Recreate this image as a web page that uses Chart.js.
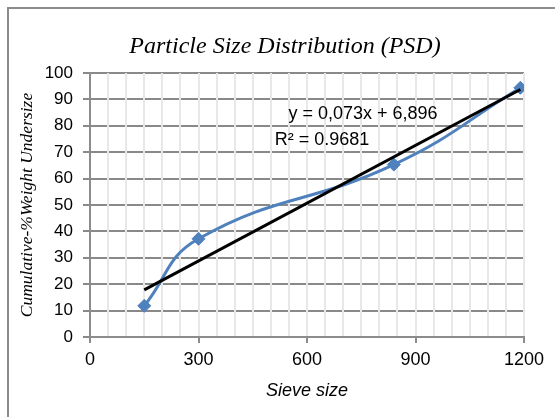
<!DOCTYPE html>
<html>
<head>
<meta charset="utf-8">
<script src="https://cdn.jsdelivr.net/npm/chart.js@4.4.1/dist/chart.umd.min.js"></script>
<style>
  html, body { margin: 0; padding: 0; background: #fff; overflow: hidden; }
  #wrap { position: relative; width: 555px; height: 417px; }
  #frame { position: absolute; left: 7px; top: 7px; width: 600px; height: 500px; border: 2px solid #8c8c8c; }
  canvas { position: absolute; left: 0; top: 0; }
</style>
</head>
<body>
<div id="wrap">
  <div id="frame"></div>
  <canvas id="psdChart" width="555" height="417"></canvas>
</div>
<script>
// Sieve sizes and cumulative % weight undersize
const sieveSizes = [150, 300, 840, 1190];
const cumUndersize = [11.8, 37.2, 65.3, 94.4];

// Linear trendline as printed on the chart
const trendSlope = 0.073;
const trendIntercept = 6.896;
const trendR2 = '0.9681';
const trendLabel = 'y = 0,073x + 6,896';
const chartTitle = 'Particle Size Distribution (PSD)';

const xTicksMajor = 300;

const seriesPoints = sieveSizes.map((x, i) => ({ x: x, y: cumUndersize[i] }));
const trendX = [sieveSizes[0], sieveSizes[sieveSizes.length - 1]];
const trendPoints = trendX.map(x => ({ x: x, y: trendSlope * x + trendIntercept }));

// title + trendline label, drawn as canvas text
const textPlugin = {
    id: 'psdText',
    afterDatasetsDraw(chart) {
        const ctx = chart.ctx;
        ctx.save();
        ctx.fillStyle = '#000';
        ctx.textAlign = 'center';
        ctx.textBaseline = 'middle';
        ctx.font = 'italic 24px "Liberation Serif", "Times New Roman", serif';
        ctx.fillText(chartTitle, 285, 47);
        ctx.font = '18px "Liberation Sans", Arial, sans-serif';
        ctx.fillText(trendLabel, 363, 114);
        ctx.fillText('R\u00B2 = ' + trendR2, 322, 140);
        ctx.restore();
    }
};

new Chart(document.getElementById('psdChart').getContext('2d'), {
    type: 'line',
    data: {
        datasets: [
            {
                label: 'Trend',
                data: trendPoints,
                borderColor: '#000000',
                borderWidth: 3,
                pointRadius: 0,
                tension: 0,
                order: 1
            },
            {
                label: 'PSD',
                data: seriesPoints,
                borderColor: '#4F81BD',
                backgroundColor: '#4F81BD',
                borderWidth: 3,
                pointStyle: 'rectRot',
                pointRadius: 6.5,
                pointBorderWidth: 1,
                tension: 0.45,
                order: 2
            }
        ]
    },
    options: {
        responsive: false,
        animation: false,
        events: [],
        layout: { padding: { left: 0, right: 31, top: 73, bottom: 0 } },
        plugins: {
            legend: { display: false },
            tooltip: { enabled: false },
            title: { display: false }
        },
        scales: {
            x: {
                type: 'linear',
                min: 0,
                max: 1200,
                afterFit: (scale) => { scale.height = 80; },
                ticks: {
                    stepSize: 50,
                    autoSkip: false,
                    maxRotation: 0,
                    padding: 6,
                    color: '#000',
                    font: { family: '"Liberation Sans", Arial, sans-serif', size: 18 },
                    callback: (v) => (v % xTicksMajor === 0 ? v : '')
                },
                grid: {
                    z: -1,
                    color: '#e8e8e8',
                    lineWidth: 2,
                    tickLength: 6,
                    tickWidth: 2,
                    tickColor: (ctx) => (ctx.tick && ctx.tick.value % xTicksMajor === 0 ? '#8c8c8c' : 'rgba(0,0,0,0)')
                },
                border: { color: '#8c8c8c', width: 2 },
                title: {
                    display: true,
                    text: 'Sieve size',
                    color: '#000',
                    font: { family: '"Liberation Sans", Arial, sans-serif', size: 18, style: 'italic' },
                    padding: { top: 0, bottom: 15 }
                }
            },
            y: {
                min: 0,
                max: 100,
                afterFit: (scale) => { scale.width = 90; },
                ticks: {
                    stepSize: 10,
                    padding: 10,
                    color: '#000',
                    font: { family: '"Liberation Sans", Arial, sans-serif', size: 17 }
                },
                grid: {
                    z: -2,
                    color: '#898989',
                    lineWidth: 2,
                    tickLength: 7,
                    tickWidth: 2
                },
                border: { color: '#8c8c8c', width: 2 },
                title: {
                    display: true,
                    text: 'Cumulative-%Weight Undersize',
                    color: '#000',
                    font: { family: '"Liberation Serif", "Times New Roman", serif', size: 17.5, style: 'italic' },
                    padding: { top: 17, bottom: 0 }
                }
            }
        }
    },
    plugins: [textPlugin]
});
</script>
</body>
</html>
